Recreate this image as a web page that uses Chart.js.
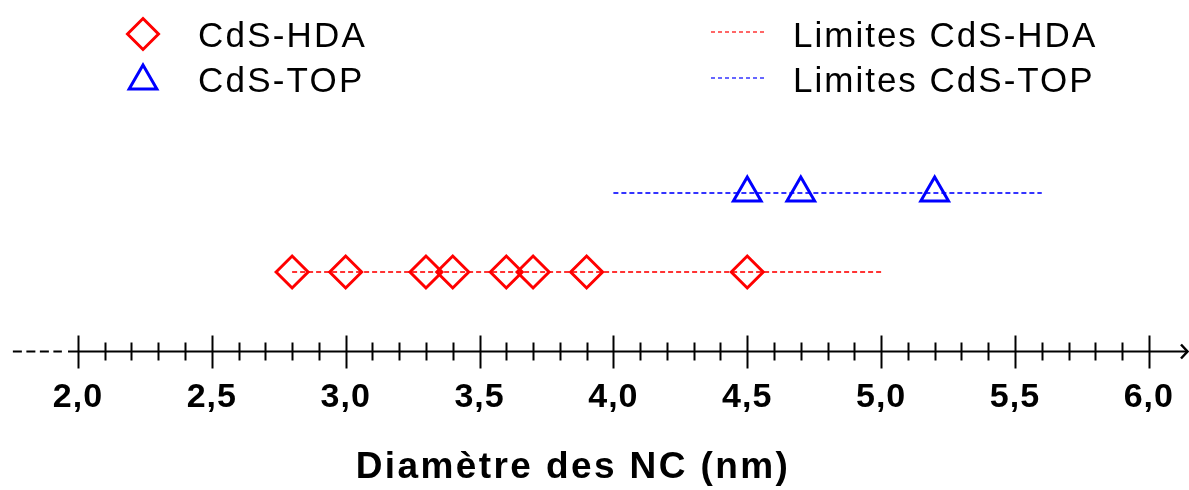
<!DOCTYPE html>
<html>
<head>
<meta charset="utf-8">
<script src="https://cdn.jsdelivr.net/npm/chart.js@4/dist/chart.umd.min.js"></script>
<style>
  html, body { margin: 0; padding: 0; background: #fff; }
  #wrap { width: 1189px; height: 490px; position: relative; }
</style>
</head>
<body>
<div id="wrap"><canvas id="graficoNC"></canvas></div>
<script>
// donnees
const diametresHDA = [2.8, 3.0, 3.3, 3.4, 3.6, 3.7, 3.9, 4.5];
const diametresTOP = [4.5, 4.7, 5.2];
const limitesHDA = [2.8, 5.0];
const limitesTOP = [4.0, 5.6];
const niveauHDA = 1;
const niveauTOP = 2;
const ticksMajeurs = [2.0, 2.5, 3.0, 3.5, 4.0, 4.5, 5.0, 5.5, 6.0];
const etiquettesTicks = ["2,0", "2,5", "3,0", "3,5", "4,0", "4,5", "5,0", "5,5", "6,0"];
const titreAxe = "Diamètre des NC (nm)";
const nomsSeries = ["CdS-HDA", "CdS-TOP", "Limites CdS-HDA", "Limites CdS-TOP"];

const ROUGE = "#ff0000";
const BLEU = "#0000ff";
const POLICE = 'Arial, "Liberation Sans", sans-serif';

function aPoints(xs, y) {
  return xs.map(x => ({ x: x, y: y }));
}

function texte(ctx, s, x, y, font, espace, align) {
  ctx.save();
  ctx.font = font;
  ctx.fillStyle = "#000";
  ctx.textBaseline = "alphabetic";
  if ("letterSpacing" in ctx) ctx.letterSpacing = espace + "px";
  let w = ctx.measureText(s).width;
  let x0 = align === "center" ? x - w / 2 : x;
  ctx.textAlign = "left";
  ctx.fillText(s, x0, y);
  ctx.restore();
}

function losange(ctx, x, y, r) {
  ctx.beginPath();
  ctx.moveTo(x, y - r);
  ctx.lineTo(x + r, y);
  ctx.lineTo(x, y + r);
  ctx.lineTo(x - r, y);
  ctx.closePath();
  ctx.stroke();
}

function triangle(ctx, x, y, r) {
  ctx.beginPath();
  ctx.moveTo(x, y - r);
  ctx.lineTo(x + r * 0.866, y + r * 0.5);
  ctx.lineTo(x - r * 0.866, y + r * 0.5);
  ctx.closePath();
  ctx.stroke();
}

const axeEtLegende = {
  id: "axeEtLegende",
  beforeDatasetsDraw(chart) {
    const ctx = chart.ctx;
    const sx = chart.scales.x;
    const sy = chart.scales.y;
    const y0 = Math.round(sy.getPixelForValue(0)) + 0.5;
    ctx.save();
    ctx.strokeStyle = "#000";
    ctx.lineWidth = 2;
    // partie pointillee a gauche
    ctx.setLineDash([9, 4.5]);
    ctx.beginPath();
    ctx.moveTo(sx.getPixelForValue(1.757), y0);
    ctx.lineTo(sx.getPixelForValue(1.94), y0);
    ctx.stroke();
    ctx.setLineDash([]);
    ctx.beginPath();
    ctx.moveTo(sx.getPixelForValue(1.963), y0);
    ctx.lineTo(1187, y0);
    ctx.stroke();
    // fleche
    ctx.lineWidth = 2.5;
    ctx.beginPath();
    ctx.moveTo(1181, y0 - 7);
    ctx.lineTo(1187.5, y0);
    ctx.lineTo(1181, y0 + 7);
    ctx.stroke();
    // graduations
    ctx.lineWidth = 2;
    for (let i = 0; i <= 40; i++) {
      const v = 2 + i * 0.1;
      const px = Math.round(sx.getPixelForValue(v)) + 0.5;
      const majeur = i % 5 === 0;
      ctx.beginPath();
      ctx.moveTo(px, y0 - (majeur ? 16 : 9));
      ctx.lineTo(px, y0 + (majeur ? 17 : 9));
      ctx.stroke();
    }
    ctx.restore();
    ticksMajeurs.forEach((v, i) => {
      texte(ctx, etiquettesTicks[i], sx.getPixelForValue(v), 407, "bold 34px " + POLICE, 1, "center");
    });
    texte(ctx, titreAxe, 573, 478, "bold 37px " + POLICE, 2.4, "center");
  },
  afterDraw(chart) {
    const ctx = chart.ctx;
    ctx.save();
    ctx.lineWidth = 3;
    ctx.strokeStyle = ROUGE;
    losange(ctx, 143, 34, 15.5);
    ctx.strokeStyle = BLEU;
    triangle(ctx, 143, 81, 16);
    ctx.lineWidth = 1.5;
    ctx.setLineDash([4, 3]);
    ctx.strokeStyle = "rgba(255,0,0,0.8)";
    ctx.beginPath(); ctx.moveTo(711, 32); ctx.lineTo(765, 32); ctx.stroke();
    ctx.strokeStyle = "rgba(0,0,255,0.8)";
    ctx.beginPath(); ctx.moveTo(711, 78); ctx.lineTo(767, 78); ctx.stroke();
    ctx.restore();
    texte(ctx, nomsSeries[0], 198, 47, "35px " + POLICE, 2.2, "left");
    texte(ctx, nomsSeries[1], 198, 92, "35px " + POLICE, 2.2, "left");
    texte(ctx, nomsSeries[2], 793, 47, "35px " + POLICE, 2, "left");
    texte(ctx, nomsSeries[3], 793, 92, "35px " + POLICE, 2, "left");
  }
};

new Chart(document.getElementById("graficoNC"), {
  type: "scatter",
  data: {
    datasets: [
      {
        label: nomsSeries[0],
        data: aPoints(diametresHDA, niveauHDA),
        pointStyle: "rectRot",
        pointRadius: 16,
        pointBorderWidth: 3,
        borderColor: ROUGE,
        backgroundColor: "rgba(0,0,0,0)",
        order: 0
      },
      {
        label: nomsSeries[1],
        data: aPoints(diametresTOP, niveauTOP),
        pointStyle: "triangle",
        pointRadius: 16,
        pointBorderWidth: 3,
        borderColor: BLEU,
        backgroundColor: "rgba(0,0,0,0)",
        order: 0
      },
      {
        label: nomsSeries[2],
        data: aPoints(limitesHDA, niveauHDA),
        showLine: true,
        pointRadius: 0,
        borderColor: "rgba(255,0,0,0.8)",
        borderWidth: 2,
        borderDash: [5, 3],
        order: 1
      },
      {
        label: nomsSeries[3],
        data: aPoints(limitesTOP, niveauTOP),
        showLine: true,
        pointRadius: 0,
        borderColor: "rgba(0,0,255,0.8)",
        borderWidth: 2,
        borderDash: [5, 3],
        order: 1
      }
    ]
  },
  options: {
    responsive: true,
    maintainAspectRatio: false,
    animation: false,
    events: [],
    clip: false,
    layout: { autoPadding: false, padding: { left: 11, right: 0, top: 114, bottom: 60 } },
    plugins: { legend: { display: false }, tooltip: { enabled: false } },
    scales: {
      x: { type: "linear", min: 1.75, max: 6.15, display: false },
      y: { type: "linear", min: -1, max: 3, display: false }
    }
  },
  plugins: [axeEtLegende]
});
</script>
</body>
</html>
